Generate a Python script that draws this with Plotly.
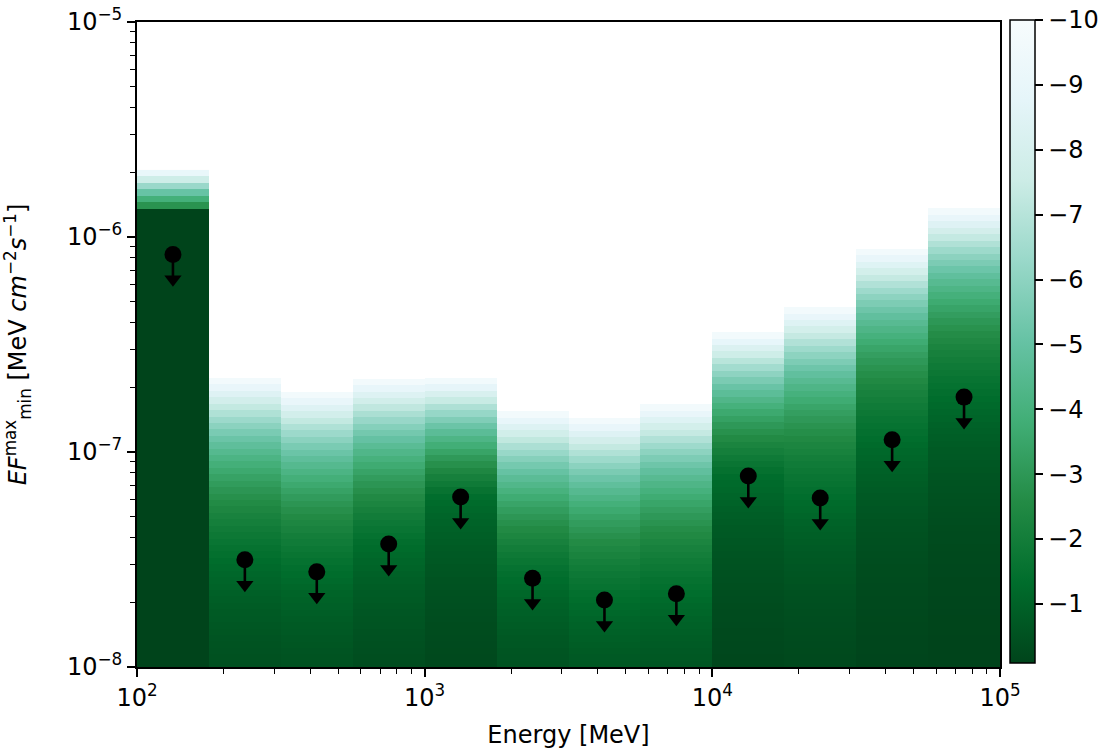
import numpy as np
import plotly.graph_objects as go

# ---------------- data ----------------
energy_edges = [100.0, 177.8, 316.2, 562.3, 1000.0, 1778.3, 3162.3, 5623.4,
                10000.0, 17782.8, 31622.8, 56234.1, 100000.0]
ul_flux = [8.3e-7, 3.15e-8, 2.77e-8, 3.73e-8, 6.18e-8, 2.59e-8, 2.05e-8,
           2.19e-8, 7.73e-8, 6.11e-8, 1.14e-7, 1.80e-7]
scan_top = [2.05e-6, 2.21e-7, 1.90e-7, 2.19e-7, 2.21e-7, 1.55e-7, 1.44e-7,
            1.67e-7, 3.61e-7, 4.72e-7, 8.8e-7, 1.36e-6]
# delta log-likelihood profile knots per bin (flux, dlogl)
knot_flux = [
    [0.0, 1.33e-6, 1.36e-6, 2.05e-6],
    [0.0, 3.15e-8, 2.21e-7],
    [0.0, 2.77e-8, 1.90e-7],
    [0.0, 3.73e-8, 2.19e-7],
    [0.0, 6.18e-8, 2.21e-7],
    [0.0, 2.59e-8, 1.55e-7],
    [0.0, 2.05e-8, 1.44e-7],
    [0.0, 2.19e-8, 1.67e-7],
    [0.0, 7.73e-8, 3.61e-7],
    [0.0, 6.11e-8, 4.72e-7],
    [0.0, 1.14e-7, 8.8e-7],
    [0.0, 1.80e-7, 1.36e-6],
]
knot_dlogl = [
    [0.0, -0.1, -2.4, -9.8],
    [0.0, -1.35, -10.0],
    [0.0, -1.35, -10.0],
    [0.0, -1.35, -10.0],
    [0.0, -1.35, -10.0],
    [0.0, -1.35, -10.0],
    [0.0, -1.35, -10.0],
    [0.0, -1.35, -10.0],
    [0.0, -1.35, -10.0],
    [0.0, -1.35, -10.0],
    [0.0, -1.35, -10.0],
    [0.0, -1.35, -10.0],
]
cbar_ticks = [-10, -9, -8, -7, -6, -5, -4, -3, -2, -1]

# ---------------- style ----------------
FONT = "DejaVu Sans"
FS = 24
BuGn_r = [[0.0, "#00441b"], [0.125, "#006d2c"], [0.25, "#238b45"],
          [0.375, "#41ae76"], [0.5, "#66c2a4"], [0.625, "#99d8c9"],
          [0.75, "#ccece6"], [0.875, "#e5f5f9"], [1.0, "#f7fcfd"]]
band_dex = 0.03
arrow_dex = 0.116
LO_LOG = -8.03

# per-bin scan bands
bin_edges, bin_vals = [], []
for i in range(len(ul_flux)):
    hi_log = np.log10(scan_top[i])
    n = max(1, int(round((hi_log - LO_LOG) / band_dex)))
    edges = np.logspace(LO_LOG, hi_log, n + 1)
    centers = np.sqrt(edges[:-1] * edges[1:])
    bin_edges.append(edges)
    bin_vals.append(-np.interp(centers, knot_flux[i], knot_dlogl[i]))

# common y grid (union of all bin band edges), one heatmap -> no seams
y_all = np.unique(np.concatenate(bin_edges))
yc = np.sqrt(y_all[:-1] * y_all[1:])
Z = np.full((len(yc), len(ul_flux)), np.nan)
for i in range(len(ul_flux)):
    inside = yc < scan_top[i]
    k = np.searchsorted(bin_edges[i], yc[inside]) - 1
    k = np.clip(k, 0, len(bin_vals[i]) - 1)
    Z[inside, i] = bin_vals[i][k]

fig = go.Figure()
fig.add_trace(go.Heatmap(x=energy_edges, y=y_all, z=Z, coloraxis="coloraxis",
                         hoverinfo="skip", zsmooth=False))

centers_e = [np.sqrt(energy_edges[i] * energy_edges[i + 1]) for i in range(len(ul_flux))]

# upper-limit arrows (stem + head) and points
for xe, ul in zip(centers_e, ul_flux):
    fig.add_trace(go.Scatter(x=[xe, xe], y=[ul, ul * 10 ** (-arrow_dex)], mode="lines",
                             line=dict(color="black", width=2.6), showlegend=False,
                             hoverinfo="skip"))
fig.add_trace(go.Scatter(x=centers_e, y=[u * 10 ** (-arrow_dex) for u in ul_flux],
                         mode="markers", marker=dict(symbol="triangle-down", size=15,
                                                      color="black"),
                         showlegend=False, hoverinfo="skip"))
fig.add_trace(go.Scatter(x=centers_e, y=ul_flux, mode="markers",
                         marker=dict(symbol="circle", size=17, color="black"),
                         showlegend=False, hoverinfo="skip"))

def minor_vals(d0, d1):
    return [m * 10 ** d for d in range(d0, d1) for m in range(2, 10)]

axis_common = dict(showline=True, linecolor="black", linewidth=1.8, mirror=True,
                   ticks="outside", ticklen=8, tickwidth=1.8, tickcolor="black",
                   showgrid=False, zeroline=False, ticklabeloverflow="allow",
                   tickfont=dict(family=FONT, size=FS, color="black"))

fig.update_xaxes(type="log", range=[2, 5],
                 tickvals=[1e2, 1e3, 1e4, 1e5],
                 ticktext=["10<sup>2</sup>", "10<sup>3</sup>", "10<sup>4</sup>", "10<sup>5</sup>"],
                 minor=dict(tickvals=minor_vals(2, 5), ticks="outside", ticklen=5,
                            tickwidth=1.4, tickcolor="black"),
                 title=dict(text="Energy [MeV]", font=dict(family=FONT, size=FS, color="black"),
                            standoff=15),
                 **axis_common)
fig.update_yaxes(type="log", range=[-8, -5],
                 tickvals=[1e-8, 1e-7, 1e-6, 1e-5],
                 ticktext=["10<sup>\u22128</sup>", "10<sup>\u22127</sup>",
                           "10<sup>\u22126</sup>", "10<sup>\u22125</sup>"],
                 minor=dict(tickvals=minor_vals(-8, -5), ticks="outside", ticklen=5,
                            tickwidth=1.4, tickcolor="black"),
                 title=dict(text="<i>EF</i><sup>max</sup><sub>min</sub> [MeV <i>cm</i><sup>\u22122</sup><i>s</i><sup>\u22121</sup>]",
                            font=dict(family=FONT, size=FS, color="black"), standoff=36),
                 **axis_common)

W, H = 1107, 750
L, T = 137, 22
PW, PH = 863, 645
fig.update_layout(
    width=W, height=H,
    margin=dict(l=L, r=W - L - PW, t=T, b=H - T - PH, autoexpand=False),
    paper_bgcolor="white", plot_bgcolor="white",
    showlegend=False,
    font=dict(family=FONT, size=FS, color="black"),
    coloraxis=dict(
        colorscale=BuGn_r, cmin=0.09, cmax=10,
        colorbar=dict(
            x=(1010 - 137) / PW, xanchor="left", xpad=0,
            y=1 - (341.5 - 22) / PH, yanchor="middle", ypad=0,
            len=643, lenmode="pixels", thickness=25, thicknessmode="pixels",
            outlinewidth=1.5, outlinecolor="black",
            tickvals=[-t for t in cbar_ticks],
            ticktext=["\u2212" + str(-t) for t in cbar_ticks],
            ticks="outside", ticklen=8, tickwidth=1.8, tickcolor="black",
            ticklabeloverflow="allow",
            tickfont=dict(family=FONT, size=FS, color="black"),
        ),
    ),
)

# remove the default page margin so the figure fills the window exactly
fig.write_html("out.html", config={"displayModeBar": False},
               post_script="document.body.style.margin='0';")
